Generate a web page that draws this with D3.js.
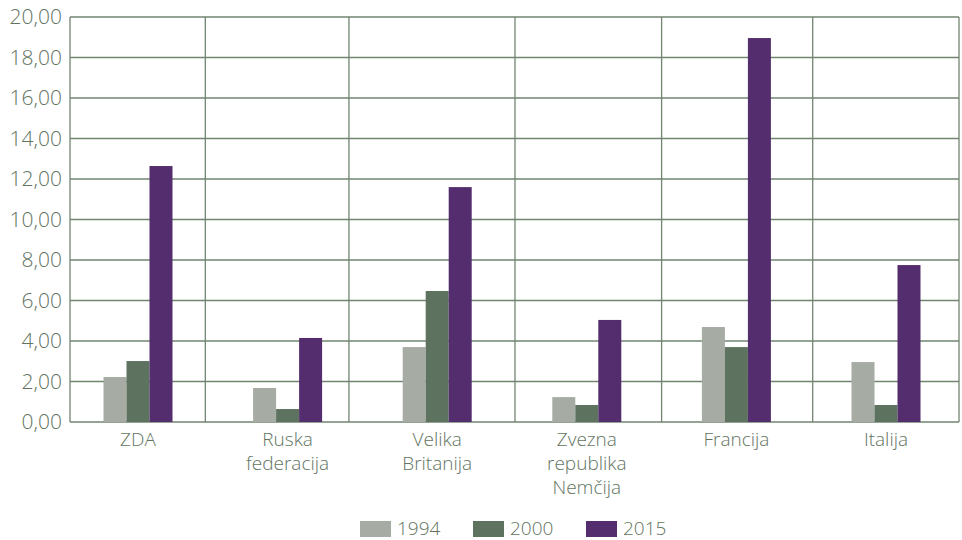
<!DOCTYPE html>
<html>
<head>
<meta charset="utf-8">
<script src="https://cdn.jsdelivr.net/npm/d3@7"></script>
<style>
  body { margin: 0; background: #fff; }
  text { font-family: "Open Sans", "Noto Sans", sans-serif; font-weight: 300; fill: #62745f; }
</style>
</head>
<body>
<div id="chart"></div>
<script>
// data
const categories = [['ZDA'], ['Ruska', 'federacija'], ['Velika', 'Britanija'],
  ['Zvezna', 'republika', 'Nemčija'], ['Francija'], ['Italija']];
const years = ['1994', '2000', '2015'];
const v1994 = [2.22, 1.68, 3.70, 1.23, 4.69, 2.96];
const v2000 = [3.01, 0.64, 6.47, 0.84, 3.70, 0.84];
const v2015 = [12.64, 4.15, 11.60, 5.04, 18.96, 7.75];
const yTicks = [0, 2, 4, 6, 8, 10, 12, 14, 16, 18, 20];
// separators between categories, in category-index units
const dividers = [0.45, 1.41, 2.52, 3.50, 4.51];

const colors = ['#a6aba4', '#5d735f', '#532d6d'];
const gridColor = '#71856f';

const W = 962, H = 540;
const margin = {left: 70, right: 959, top: 17, bottom: 422};

const svg = d3.select('#chart').append('svg')
  .attr('width', W)
  .attr('height', H);

const y = d3.scaleLinear().domain([0, 20]).range([margin.bottom, margin.top]);
// category centre positions
const xc = d3.scaleLinear().domain([0, 5]).range([138, 886]);
const x1 = d3.scaleBand().domain(years).range([-34.5, 34.5]).padding(0);

// horizontal grid
svg.append('g')
  .selectAll('line')
  .data(yTicks)
  .join('line')
  .attr('x1', margin.left).attr('x2', margin.right)
  .attr('y1', d => y(d)).attr('y2', d => y(d))
  .attr('stroke', gridColor)
  .attr('stroke-width', 1.3);

// vertical separators + frame edges
svg.append('g')
  .selectAll('line')
  .data(dividers)
  .join('line')
  .attr('x1', d => xc(d)).attr('x2', d => xc(d))
  .attr('y1', margin.top).attr('y2', margin.bottom)
  .attr('stroke', gridColor)
  .attr('stroke-width', 1.3);

[margin.left, margin.right].forEach(xx => {
  svg.append('line')
    .attr('x1', xx).attr('x2', xx)
    .attr('y1', margin.top).attr('y2', margin.bottom)
    .attr('stroke', gridColor)
    .attr('stroke-width', 1.3);
});

// bars
const series = [v1994, v2000, v2015];
series.forEach((vals, si) => {
  svg.append('g')
    .selectAll('rect')
    .data(vals)
    .join('rect')
    .attr('x', (d, i) => xc(i) + x1(years[si]))
    .attr('width', x1.bandwidth())
    .attr('y', d => y(d))
    .attr('height', d => y(0) - y(d))
    .attr('fill', colors[si]);
});

// y axis labels
const fmt = d => d3.format('.2f')(d).replace('.', ',');
svg.append('g')
  .selectAll('text')
  .data(yTicks)
  .join('text')
  .attr('x', 62)
  .attr('y', d => y(d))
  .attr('dy', '0.35em')
  .attr('text-anchor', 'end')
  .style('font-size', '21px')
  .text(fmt);

// category labels
const cat = svg.append('g')
  .selectAll('text')
  .data(categories)
  .join('text')
  .attr('text-anchor', 'middle')
  .style('font-size', '19px');
cat.each(function(lines, i) {
  d3.select(this).selectAll('tspan')
    .data(lines)
    .join('tspan')
    .attr('x', xc(i))
    .attr('y', (d, j) => 446 + j * 24)
    .text(d => d);
});

// legend
const legendX = [360, 473, 586];
const lg = svg.append('g')
  .selectAll('g')
  .data(years)
  .join('g')
  .attr('transform', (d, i) => `translate(${legendX[i]},521)`);
lg.append('rect')
  .attr('width', 31).attr('height', 16)
  .attr('fill', (d, i) => colors[i]);
lg.append('text')
  .attr('x', 37).attr('y', 14)
  .style('font-size', '19px')
  .text(d => d);
</script>
</body>
</html>
